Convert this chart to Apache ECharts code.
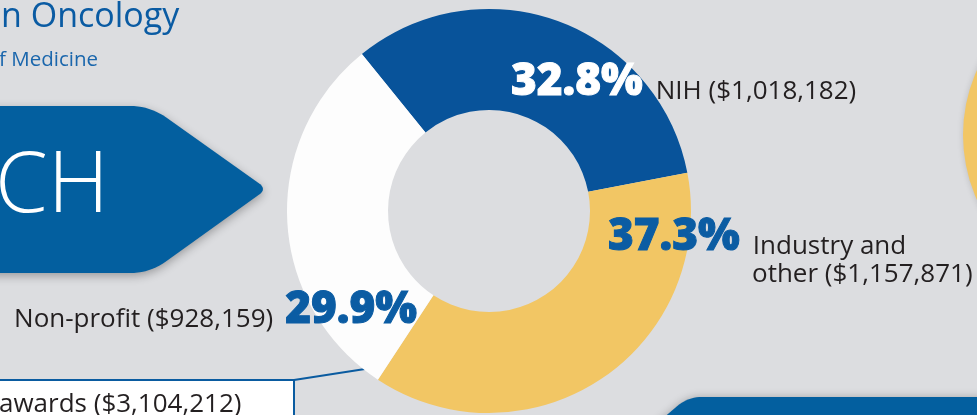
<!DOCTYPE html>
<html>
<head>
<meta charset="utf-8">
<script src="https://cdn.jsdelivr.net/npm/echarts@6/dist/echarts.min.js"></script>
<style>
html,body{margin:0;padding:0;background:#dcdde0;}
#main{width:977px;height:415px;}
</style>
</head>
<body>
<div id="main"></div>
<script>
// funding sources (dollars)
var categories = ['NIH', 'Industry and\nother', 'Non-profit'];
var values = [1018182, 1157871, 928159];
var totalName = 'awards';

var sliceColors = ['#08539a', '#f2c664', '#fdfdfd'];
var pctColors = ['pw', 'pb', 'pb'];

var total = values.reduce(function (a, b) { return a + b; }, 0);
function money(v) { return '$' + v.toLocaleString('en-US'); }
function pct(v) { return (v / total * 100).toFixed(1) + '%'; }

// where each label sits
var labelSpots = [
	{x: 511, y: 83, align: 'left'},
	{x: 608, y: 252, align: 'left'},
	{x: 417, y: 311, align: 'right'}
];

function labelText(i) {
	var p = '{' + pctColors[i] + '|' + pct(values[i]) + '}';
	var lines = (categories[i] + ' (' + money(values[i]) + ')').split('\n');
	if (labelSpots[i].align === 'right') {
		return '{tr|' + lines[0] + '}' + p;
	}
	var s = p + '{t|' + lines[0] + '}';
	for (var k = 1; k < lines.length; k++) {
		s += '\n{pad|}{t2|' + lines[k] + '}';
	}
	return s;
}

var pieData = values.map(function (v, i) {
	return {
		name: categories[i],
		value: v,
		itemStyle: {color: sliceColors[i]},
		label: {formatter: labelText(i)}
	};
});

// polygon with rounded corners (corner = [x, y, r])
function rounded(pts) {
	var out = [];
	var n = pts.length;
	for (var i = 0; i < n; i++) {
		var c = pts[i], pr = pts[(i + n - 1) % n], nx = pts[(i + 1) % n];
		var r = c[2] || 0;
		if (!r) { out.push([c[0], c[1]]); continue; }
		var d1 = Math.hypot(pr[0] - c[0], pr[1] - c[1]);
		var d2 = Math.hypot(nx[0] - c[0], nx[1] - c[1]);
		var a = [c[0] + (pr[0] - c[0]) * r / d1, c[1] + (pr[1] - c[1]) * r / d1];
		var b = [c[0] + (nx[0] - c[0]) * r / d2, c[1] + (nx[1] - c[1]) * r / d2];
		for (var t = 0; t <= 1.0001; t += 0.1) {
			var u = 1 - t;
			out.push([u * u * a[0] + 2 * u * t * c[0] + t * t * b[0], u * u * a[1] + 2 * u * t * c[1] + t * t * b[1]]);
		}
	}
	return out;
}

var txt = {fontFamily: 'Open Sans', fontSize: 26, color: '#231f20', lineHeight: 28, verticalAlign: 'bottom'};
var big = {fontFamily: 'Open Sans', fontWeight: 900, fontSize: 44, lineHeight: 43, verticalAlign: 'bottom', textBorderWidth: 1};

var chart = echarts.init(document.getElementById('main'));
chart.setOption({
	backgroundColor: '#dcdde0',
	animation: false,
	graphic: [
		// banner arrow
		{
			type: 'polygon', z: 1,
			shape: {points: rounded([[-20, 106], [150, 106, 20], [267, 189, 10], [150, 273, 20], [-20, 273]])},
			style: {fill: '#035f9f', shadowBlur: 10, shadowOffsetY: 3, shadowColor: 'rgba(0,0,0,0.3)'}
		},
		{
			type: 'text', z: 2, x: 109, y: 188,
			style: {text: 'ARCH', fill: '#ffffff', font: '300 85px "Open Sans"', align: 'right', verticalAlign: 'middle',
				shadowBlur: 10, shadowColor: 'rgba(0,0,30,0.45)', shadowOffsetY: 2}
		},
		{
			type: 'text', x: 1, y: 17,
			style: {text: 'n Oncology', fill: '#0a5ba3', font: '34px "Open Sans"', verticalAlign: 'middle'}
		},
		{
			type: 'text', x: -1, y: 60,
			style: {text: 'f Medicine', fill: '#1a66ac', font: '20.5px "Open Sans"', verticalAlign: 'middle'}
		},
		// right yellow circle
		{
			type: 'circle', shape: {cx: 1121, cy: 135, r: 158},
			style: {fill: '#f2c664', shadowBlur: 6, shadowColor: 'rgba(0,0,0,0.15)'}
		},
		// bottom right panel
		{
			type: 'polygon',
			shape: {points: rounded([[655, 425], [688, 397, 14], [990, 397], [990, 425]])},
			style: {fill: '#035f9f', shadowBlur: 8, shadowColor: 'rgba(0,0,0,0.25)'}
		},
		// total box + connector
		{
			type: 'line', shape: {x1: 294, y1: 380, x2: 365, y2: 369},
			style: {stroke: '#0a5ba0', lineWidth: 2}
		},
		{
			type: 'rect', shape: {x: -10, y: 380, width: 304, height: 60},
			style: {fill: '#ffffff', stroke: '#0a5ba0', lineWidth: 2}
		},
		{
			type: 'text', x: -1, y: 405,
			style: {text: totalName + ' (' + money(total) + ')', fill: '#231f20', font: '26px "Open Sans"', verticalAlign: 'middle'}
		}
	],
	series: [{
		type: 'pie',
		center: [489, 211],
		radius: [101, 202],
		startAngle: 129,
		silent: true,
		emphasis: {disabled: true},
		avoidLabelOverlap: false,
		labelLine: {show: false},
		label: {
			show: true,
			position: 'outside',
			rich: {
				pw: Object.assign({color: '#ffffff', textBorderColor: '#ffffff'}, big),
				pb: Object.assign({color: '#0b5ca3', textBorderColor: '#0b5ca3'}, big),
				t: Object.assign({padding: [0, 0, 0, 13]}, txt),
				t2: txt,
				tr: Object.assign({padding: [0, 12, 0, 0]}, txt),
				pad: {width: 144, lineHeight: 28}
			}
		},
		labelLayout: function (p) {
			var s = labelSpots[p.dataIndex];
			return {x: s.x, y: s.y, align: s.align, verticalAlign: 'middle'};
		},
		data: pieData
	}]
});
</script>
</body>
</html>
